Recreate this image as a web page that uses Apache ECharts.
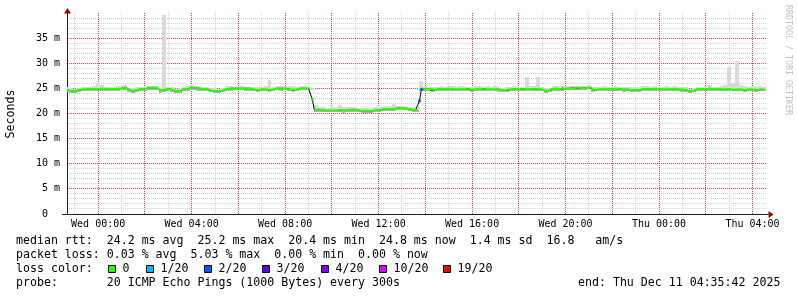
<!DOCTYPE html>
<html><head><meta charset="utf-8">
<script src="https://cdn.jsdelivr.net/npm/echarts@6/dist/echarts.min.js"></script>
<style>html,body{margin:0;padding:0;background:#fff}#c{width:797px;height:297px}</style>
</head><body><div id="c"></div>
<script>
// ---------------- data ----------------
// time in minutes relative to Wed 00:00; first sample Tue 22:40
const START_MIN = -80;
const END_MIN = 1716;          // Thu 04:35:42
const MEDIAN_STEP = 5;
const SMOKE_STEP = 10;

// median RTT (ms), one row per hour starting at hh:40
const medianRtt = [
  24.7,24.6,24.5,24.4,24.4,24.5,24.7,24.7,24.8,24.7,24.8,24.9,
  24.9,24.8,24.9,24.9,24.8,24.9,25.0,24.9,24.9,24.8,24.9,24.9,
  24.9,25.0,24.9,24.9,25.0,25.1,25.2,25.2,24.7,24.5,24.5,24.6,
  24.7,24.9,24.9,24.8,24.9,25.0,25.1,25.1,25.1,25.0,25.1,25.0,
  24.6,24.5,24.7,24.9,24.9,24.9,24.8,24.6,24.4,24.4,24.5,24.7,
  24.9,24.9,24.9,25.0,25.2,25.2,25.1,25.2,25.0,24.9,24.9,24.9,
  24.9,24.8,24.6,24.6,24.5,24.4,24.4,24.5,24.6,24.9,24.9,24.9,
  25.0,24.9,25.0,25.0,25.0,24.9,25.0,25.0,25.0,24.9,25.0,24.9,
  24.8,24.8,24.7,24.8,24.8,24.9,24.8,24.8,24.7,24.8,24.8,24.9,
  25.0,25.0,25.0,24.9,25.0,25.0,24.9,24.9,24.6,24.6,24.8,24.9,
  25.0,25.0,25.0,25.0,25.0,25.0,22.8,20.7,20.7,20.8,20.7,20.7,
  20.7,20.6,20.6,20.6,20.7,20.6,20.6,20.6,20.8,20.7,20.5,20.6,
  20.7,20.7,20.7,20.8,20.7,20.7,20.6,20.5,20.4,20.6,20.5,20.5,
  20.6,20.5,20.7,20.7,20.7,20.7,20.8,20.9,20.9,20.9,20.9,20.9,
  20.9,21.0,21.1,21.1,21.0,21.1,21.0,20.9,20.8,20.8,20.8,20.7,
  20.7,22.5,24.8,24.9,24.9,24.9,24.8,24.9,24.6,24.6,24.8,24.9,
  24.9,24.9,24.8,24.9,25.0,24.9,24.9,24.9,24.8,24.8,24.8,24.9,
  24.8,24.8,24.9,24.8,24.7,24.8,24.8,24.9,24.8,24.8,24.9,24.8,
  24.8,24.9,24.8,24.8,24.8,24.9,24.8,24.7,24.6,24.6,24.6,24.8,
  24.8,24.9,24.8,24.9,24.8,24.8,24.9,24.8,24.8,24.9,24.8,24.9,
  24.9,24.8,24.8,24.9,24.8,24.6,24.5,24.5,24.6,24.9,25.0,24.9,
  25.0,24.9,24.9,25.0,25.0,24.9,25.0,25.0,25.1,25.1,25.0,25.1,
  25.0,25.0,25.1,25.1,25.2,25.2,24.8,24.7,24.7,24.8,24.9,24.8,
  24.9,24.8,24.9,24.9,24.9,24.8,24.8,24.9,24.9,24.8,24.8,24.7,
  24.8,24.8,24.7,24.7,24.7,24.6,24.7,24.8,24.9,25.0,24.9,24.9,
  24.9,24.8,24.9,24.8,24.9,24.8,24.8,24.9,24.8,24.8,24.9,24.8,
  24.9,24.8,24.8,24.9,24.8,24.8,24.7,24.6,24.4,24.4,24.5,24.8,
  24.9,24.8,24.9,24.9,24.8,24.9,25.0,24.9,24.8,24.8,24.9,24.8,
  24.8,24.9,24.8,24.8,24.9,24.8,24.7,24.8,24.8,24.9,24.8,24.8,
  24.7,24.8,24.8,24.9,24.8,24.8,24.7,24.8,24.8,24.9,24.8
];

// smoke (ping spread) upper / lower bounds (ms), 10-minute samples, one row per hour
const smokeHigh = [
  25.2,25.0,24.8,25.1,25.2,25.2,
  25.3,25.5,26.0,25.7,25.3,25.3,
  25.3,25.4,25.4,25.6,25.1,25.0,
  25.2,25.3,25.3,25.5,25.5,25.4,
  25.0,39.6,25.3,25.2,24.9,25.0,
  25.3,25.4,25.6,25.5,25.4,25.3,
  25.3,25.1,25.0,24.9,25.0,25.4,
  25.4,25.3,25.4,25.5,25.3,25.3,
  25.3,25.2,25.3,25.4,26.7,25.3,
  25.4,25.4,25.4,25.5,25.4,25.2,
  25.4,25.4,25.3,25.1,21.6,21.2,
  21.2,21.1,21.3,21.2,21.7,21.2,
  21.2,21.3,21.2,21.1,21.0,21.1,
  21.1,21.2,21.2,21.3,21.4,21.4,
  21.8,21.5,21.5,21.4,21.3,21.2,
  21.2,26.4,25.4,25.3,25.2,25.3,
  25.4,25.3,25.4,25.4,25.3,25.5,
  25.4,25.3,25.3,25.4,25.5,25.3,
  25.4,25.3,25.4,25.3,25.1,25.2,
  25.3,25.4,25.3,25.3,27.2,25.4,
  25.4,27.2,25.3,25.0,25.1,25.4,
  25.4,25.4,25.5,25.4,25.5,25.5,
  25.4,25.5,25.6,25.3,25.2,25.3,
  25.4,25.3,25.3,25.4,25.3,25.2,
  25.3,25.2,25.2,25.2,25.4,25.4,
  25.3,25.4,25.3,25.3,25.4,25.3,
  25.4,25.3,25.3,25.2,24.9,25.0,
  25.3,25.3,25.4,25.7,25.3,25.3,
  25.4,25.6,29.3,26.0,30.5,25.6,
  25.4,25.3,25.4,25.3,25.4,25.3
];
const smokeLow = [
  24.3,24.1,24.0,24.3,24.4,24.4,
  24.4,24.5,24.4,24.5,24.4,24.4,
  24.5,24.5,24.6,24.7,24.2,24.1,
  24.3,24.4,24.5,24.6,24.6,24.6,
  24.1,24.3,24.4,24.3,24.0,24.1,
  24.4,24.5,24.7,24.7,24.5,24.5,
  24.4,24.2,24.0,24.0,24.2,24.5,
  24.5,24.6,24.6,24.6,24.5,24.5,
  24.4,24.3,24.4,24.4,24.3,24.4,
  24.6,24.5,24.6,24.5,24.2,24.4,
  24.6,24.6,24.6,24.6,20.3,20.3,
  20.3,20.2,20.3,20.2,20.3,20.1,
  20.3,20.3,20.3,20.2,20.1,20.1,
  20.1,20.3,20.3,20.4,20.5,20.5,
  20.5,20.6,20.6,20.6,20.4,20.3,
  20.3,24.4,24.5,24.4,24.2,24.4,
  24.5,24.4,24.5,24.5,24.4,24.4,
  24.4,24.5,24.3,24.4,24.4,24.4,
  24.4,24.4,24.4,24.3,24.2,24.3,
  24.4,24.4,24.4,24.4,24.4,24.4,
  24.4,24.4,24.4,24.1,24.2,24.5,
  24.5,24.5,24.6,24.6,24.7,24.6,
  24.6,24.7,24.8,24.3,24.4,24.4,
  24.4,24.5,24.4,24.4,24.4,24.3,
  24.4,24.3,24.2,24.3,24.5,24.5,
  24.4,24.4,24.4,24.4,24.4,24.4,
  24.4,24.4,24.3,24.2,24.0,24.2,
  24.4,24.5,24.4,24.5,24.4,24.4,
  24.4,24.4,24.4,24.4,24.4,24.4,
  24.3,24.4,24.4,24.3,24.4,24.4
];

// samples where the median line is not drawn in the loss-0 colour
const breakMinutes = [550, 825, 830];
const breakLoss = ['0', '2/20', '2/20'];

const lossLabels = ['0', '1/20', '2/20', '3/20', '4/20', '10/20', '19/20'];
const lossColors = ['#26ff00', '#00b8ff', '#0059ff', '#5e00ff', '#7e00ff', '#dd00ff', '#ff0000'];

const xLabelMinutes = [0, 240, 480, 720, 960, 1200, 1440, 1680];
const xLabelTexts = ['Wed 00:00','Wed 04:00','Wed 08:00','Wed 12:00','Wed 16:00','Wed 20:00','Thu 00:00','Thu 04:00'];
const yLabelValues = [0, 5, 10, 15, 20, 25, 30, 35];
const yLabelTexts = ['0  ', '5 m', '10 m', '15 m', '20 m', '25 m', '30 m', '35 m'];

const statLines = [
  'median rtt:  24.2 ms avg  25.2 ms max  20.4 ms min  24.8 ms now  1.4 ms sd  16.8   am/s',
  'packet loss: 0.03 % avg  5.03 % max  0.00 % min  0.00 % now',
  'loss color:',
  'probe:       20 ICMP Echo Pings (1000 Bytes) every 300s'
];
const endText = 'end: Thu Dec 11 04:35:42 2025';
const yTitle = 'Seconds';
const sideText = 'RRDTOOL / TOBI OETIKER';

// ---------------- layout / style ----------------
const GL = 67, GT = 13, GW = 699.5, GH = 201;
const W = 797, H = 297;
const Y_MAX = 40;
const MONO = '"DejaVu Sans Mono", monospace';
const GRID_C = '#d2d2d2';
const MGRID_C = '#e04848';
const AXIS_C = '#202020';
const ARROW_C = '#a00000';
const SMOKE_LIGHT = '#d9d9d9';
const SMOKE_DARK = '#b0b0b0';

// grid line positions: minor every hour, major every 2 hours (x); minor every 1 ms, major every 5 ms (y)
const xMinorGrid = [], xMajorGrid = [], yMinorGrid = [], yMajorGrid = [];
for (let m = -60; m < END_MIN; m += 60) ((m % 120 === 0) ? xMajorGrid : xMinorGrid).push([m, 0]);
for (let v = 1; v < Y_MAX; v++) ((v % 5 === 0) ? yMajorGrid : yMinorGrid).push([START_MIN, v]);

// ---------------- build series data ----------------
const medianData = medianRtt.map((v, i) => [START_MIN + i * MEDIAN_STEP, v]);
const greenData = medianRtt.map((v, i) => {
  const t = START_MIN + i * MEDIAN_STEP;
  return [t, breakMinutes.indexOf(t) >= 0 ? '-' : v];
});
const breakData = breakMinutes.map((t, k) => ({
  value: [t, medianRtt[(t - START_MIN) / MEDIAN_STEP]],
  itemStyle: { color: lossColors[lossLabels.indexOf(breakLoss[k])] }
}));
const smokeLightData = smokeLow.map((lo, i) => [START_MIN + i * SMOKE_STEP, lo, smokeHigh[i]]);
const smokeDarkData = smokeLow.map((lo, i) => {
  const t = START_MIN + i * SMOKE_STEP;
  const med = medianRtt[(t - START_MIN) / MEDIAN_STEP];
  return [t, lo, Math.max(lo, Math.min(med, smokeHigh[i]))];
});

function smokeRenderer(color) {
  return function (params, api) {
    const t = api.value(0), lo = api.value(1), hi = api.value(2);
    const a = api.coord([t - SMOKE_STEP / 2, hi]);
    const b = api.coord([t + SMOKE_STEP / 2, lo]);
    const cs = params.coordSys;
    const x1 = Math.max(cs.x, Math.round(a[0]));
    const x2 = Math.min(cs.x + cs.width, Math.round(b[0]));
    const y1 = Math.round(a[1]), y2 = Math.round(b[1]);
    if (x2 <= x1 || y2 <= y1) return null;
    return { type: 'rect', shape: { x: x1, y: y1, width: x2 - x1, height: y2 - y1 }, style: { fill: color } };
  };
}
function vGridRenderer(color) {
  return function (params, api) {
    const m = api.value(0);
    const b = api.coord([m, 0]), t = api.coord([m, Y_MAX]);
    const x = Math.round(b[0] - 0.5) + 0.5;
    return { type: 'line', shape: { x1: x, y1: t[1], x2: x, y2: b[1] },
             style: { stroke: color, lineWidth: 1, lineDash: [1, 1] } };
  };
}
function hGridRenderer(color) {
  return function (params, api) {
    const v = api.value(1);
    const l = api.coord([START_MIN, v]), r = api.coord([END_MIN, v]);
    const y = Math.round(l[1] - 0.5) + 0.5;
    return { type: 'line', shape: { x1: l[0], y1: y, x2: r[0], y2: y },
             style: { stroke: color, lineWidth: 1, lineDash: [1, 1] } };
  };
}

// ---------------- graphic (texts, legend, arrows) ----------------
const graphic = [];
const rowsY = [241, 255, 269, 283];
statLines.forEach((s, i) => graphic.push({
  type: 'text', x: 16, y: rowsY[i], silent: true,
  style: { text: s, font: '11.6px ' + MONO, fill: '#000', textAlign: 'left', textVerticalAlign: 'middle' }
}));
graphic.push({
  type: 'text', x: 578, y: rowsY[3], silent: true,
  style: { text: endText, font: '11.6px ' + MONO, fill: '#000', textAlign: 'left', textVerticalAlign: 'middle' }
});
const boxX = [108, 146, 204, 262, 321, 379, 443];
lossLabels.forEach((lab, i) => {
  graphic.push({
    type: 'rect', silent: true,
    shape: { x: boxX[i] + 0.5, y: 265.5, width: 7, height: 7 },
    style: { fill: lossColors[i], stroke: '#000', lineWidth: 1 }
  });
  graphic.push({
    type: 'text', x: boxX[i] + 14.5, y: rowsY[2], silent: true,
    style: { text: lab, font: '11.6px ' + MONO, fill: '#000', textAlign: 'left', textVerticalAlign: 'middle' }
  });
});
graphic.push({
  type: 'text', x: 11, y: 114, rotation: Math.PI / 2, silent: true,
  style: { text: yTitle, font: '11.6px ' + MONO, fill: '#000', textAlign: 'center', textVerticalAlign: 'middle' }
});
graphic.push({
  type: 'text', x: 788, y: 60, rotation: -Math.PI / 2, silent: true,
  style: { text: sideText, font: '8.3px ' + MONO, fill: '#c0c0c0', textAlign: 'center', textVerticalAlign: 'middle' }
});
graphic.push({
  type: 'line', silent: true,
  shape: { x1: GL - 5, y1: GT + GH + 0.5, x2: GL, y2: GT + GH + 0.5 },
  style: { stroke: AXIS_C, lineWidth: 1 }
});
graphic.push({
  type: 'line', silent: true,
  shape: { x1: GL + GW, y1: GT + GH + 0.5, x2: GL + GW + 2, y2: GT + GH + 0.5 },
  style: { stroke: AXIS_C, lineWidth: 1 }
});
graphic.push({
  type: 'polygon', silent: true,
  shape: { points: [[GL + 0.5, GT - 5], [GL - 3, GT + 0.5], [GL + 4, GT + 0.5]] },
  style: { fill: ARROW_C }
});
graphic.push({
  type: 'polygon', silent: true,
  shape: { points: [[GL + GW + 7, GT + GH + 0.5], [GL + GW + 2, GT + GH - 3], [GL + GW + 2, GT + GH + 4]] },
  style: { fill: ARROW_C }
});

const gridSeries = (name, data, renderer) => ({
  type: 'custom', name: name, data: data, renderItem: renderer, encode: { x: 0, y: 1 }, silent: true, z: 0
});

const option = {
  animation: false,
  backgroundColor: '#ffffff',
  textStyle: { fontFamily: MONO },
  grid: { left: GL, top: GT, width: GW, height: GH, containLabel: false, outerBoundsMode: 'none' },
  xAxis: {
    type: 'value', min: START_MIN, max: END_MIN, position: 'bottom',
    axisLine: { show: true, onZero: false, lineStyle: { color: AXIS_C, width: 1 } },
    axisTick: { show: false },
    axisLabel: {
      customValues: xLabelMinutes, hideOverlap: false, margin: 5, color: '#000', fontFamily: MONO, fontSize: 10,
      formatter: v => { const k = xLabelMinutes.indexOf(Math.round(v)); return k >= 0 ? xLabelTexts[k] : ''; }
    },
    splitLine: { show: false }
  },
  yAxis: {
    type: 'value', min: 0, max: Y_MAX, position: 'left',
    axisLine: { show: true, onZero: false, lineStyle: { color: AXIS_C, width: 1 } },
    axisTick: { show: false },
    axisLabel: {
      customValues: yLabelValues, hideOverlap: false, margin: 7, color: '#000', fontFamily: MONO, fontSize: 10,
      formatter: v => { const k = yLabelValues.indexOf(Math.round(v)); return k >= 0 ? yLabelTexts[k] : ''; }
    },
    splitLine: { show: false }
  },
  series: [
    gridSeries('yMinorGrid', yMinorGrid, hGridRenderer(GRID_C)),
    gridSeries('xMinorGrid', xMinorGrid, vGridRenderer(GRID_C)),
    gridSeries('yMajorGrid', yMajorGrid, hGridRenderer(MGRID_C)),
    gridSeries('xMajorGrid', xMajorGrid, vGridRenderer(MGRID_C)),
    { type: 'custom', name: 'smokeLight', data: smokeLightData, renderItem: smokeRenderer(SMOKE_LIGHT),
      encode: { x: 0, y: [1, 2] }, silent: true, z: 1 },
    { type: 'custom', name: 'smokeDark', data: smokeDarkData, renderItem: smokeRenderer(SMOKE_DARK),
      encode: { x: 0, y: [1, 2] }, silent: true, z: 2 },
    { type: 'line', name: 'median', data: medianData, showSymbol: false, symbol: 'none', silent: true,
      lineStyle: { color: '#000', width: 1 }, z: 3 },
    { type: 'line', name: 'loss0', data: greenData, showSymbol: false, symbol: 'none', silent: true,
      connectNulls: false, lineStyle: { color: lossColors[0], width: 2 }, z: 4 },
    { type: 'scatter', name: 'lossBreaks', data: breakData, symbol: 'rect', symbolSize: [3, 3], silent: true, z: 5 }
  ],
  graphic: graphic
};

const chart = echarts.init(document.getElementById('c'), null, { renderer: 'canvas', width: W, height: H });
chart.setOption(option);
</script>
</body></html>
